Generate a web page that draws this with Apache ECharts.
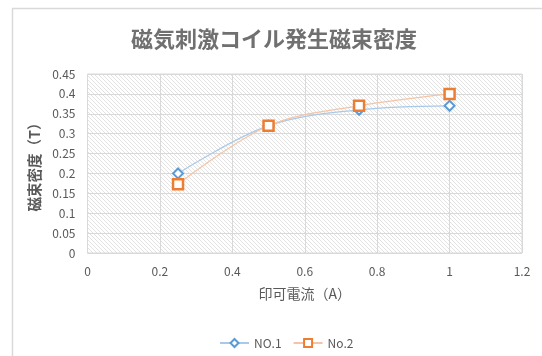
<!DOCTYPE html>
<html>
<head>
<meta charset="utf-8">
<script src="https://cdn.jsdelivr.net/npm/echarts@6/dist/echarts.min.js"></script>
<style>
html,body{margin:0;padding:0;background:#fff;}
#chart{width:542px;height:356px;}
</style>
</head>
<body>
<div id="chart"></div>
<script>
var titleText = '磁気刺激コイル発生磁束密度';
var xName = '印可電流（A）';
var yName = '磁束密度（T）';
var currents = [0.25, 0.5, 0.75, 1.0];
var no1Values = [0.20, 0.32, 0.36, 0.37];
var no2Values = [0.173, 0.32, 0.37, 0.40];
var seriesNames = ['NO.1', 'No.2'];

function pairs(xs, ys) { return xs.map(function (x, i) { return [x, ys[i]]; }); }

// hatch pattern for plot background
var pc = document.createElement('canvas');
pc.width = 4; pc.height = 4;
var g = pc.getContext('2d');
g.fillStyle = '#ffffff'; g.fillRect(0, 0, 4, 4);
g.strokeStyle = '#e2e2e2'; g.lineWidth = 1;
g.beginPath();
g.moveTo(-1, -1); g.lineTo(5, 5);
g.moveTo(-1, 3); g.lineTo(1, 5);
g.moveTo(3, -1); g.lineTo(5, 1);
g.stroke();

var font = '"Noto Sans CJK JP", "Noto Sans", sans-serif';
var chart = echarts.init(document.getElementById('chart'), null, {renderer: 'canvas'});
chart.setOption({
  animation: false,
  backgroundColor: '#ffffff',
  textStyle: {fontFamily: font},
  title: {
    text: titleText,
    left: 269, top: 23, textAlign: 'center',
    textStyle: {fontSize: 22, fontWeight: 'bold', color: '#707070', fontFamily: font}
  },
  graphic: [{
    type: 'rect', left: 10, top: 6, z: -10,
    shape: {width: 560, height: 400},
    style: {fill: 'none', stroke: '#d9d9d9', lineWidth: 1.5}
  }],
  grid: {
    left: 87.5, right: 20, top: 74, bottom: 103,
    show: true, borderColor: '#d9d9d9', borderWidth: 1,
    backgroundColor: {image: pc, repeat: 'repeat'}
  },
  legend: {
    data: seriesNames,
    top: 332, left: 214,
    itemWidth: 29, itemHeight: 10, itemGap: 11,
    textStyle: {fontSize: 12, color: '#595959', fontFamily: font}
  },
  xAxis: {
    type: 'value', min: 0, max: 1.2, interval: 0.2,
    name: xName, nameLocation: 'middle', nameGap: 34,
    nameTextStyle: {fontSize: 14, color: '#595959', fontFamily: font},
    axisLine: {show: false}, axisTick: {show: false},
    axisLabel: {fontSize: 12, color: '#595959', margin: 12},
    splitLine: {show: true, lineStyle: {color: '#d9d9d9', width: 1}}
  },
  yAxis: {
    type: 'value', min: 0, max: 0.45, interval: 0.05,
    name: yName, nameLocation: 'middle', nameGap: 41, nameRotate: 90,
    nameTextStyle: {fontSize: 14.5, fontWeight: 'bold', color: '#595959', fontFamily: font},
    axisLine: {show: false}, axisTick: {show: false},
    axisLabel: {fontSize: 12, color: '#595959', margin: 12},
    splitLine: {show: true, lineStyle: {color: '#d9d9d9', width: 1}}
  },
  series: [{
    name: seriesNames[0], type: 'line', smooth: 0.35,
    data: pairs(currents, no1Values),
    symbol: 'diamond', symbolSize: [10, 10],
    lineStyle: {color: '#a9c9ea', width: 1.25},
    itemStyle: {color: '#ffffff', borderColor: '#5b9bd5', borderWidth: 2}
  }, {
    name: seriesNames[1], type: 'line', smooth: 0.35,
    data: pairs(currents, no2Values),
    symbol: 'rect', symbolSize: 10,
    lineStyle: {color: '#f6c4a4', width: 1.25},
    itemStyle: {color: '#ffffff', borderColor: '#ed7d31', borderWidth: 2.5}
  }]
});
</script>
</body>
</html>
